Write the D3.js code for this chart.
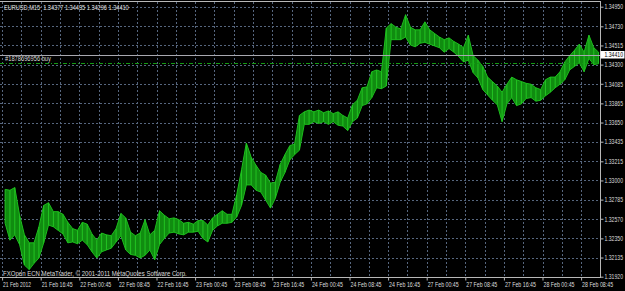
<!DOCTYPE html>
<html>
<head>
<meta charset="utf-8">
<script src="https://d3js.org/d3.v7.min.js"></script>
<style>
  body { margin: 0; background: #000; }
  svg text { font-family: "Liberation Sans", Arial, sans-serif; }
</style>
</head>
<body>
<svg id="chart" width="625" height="291"></svg>
<script>
// EURUSD M15, summarised per hour (4 bars each), first hour = 21 Feb 2012 09:00
const highs = [
  1.3290, 1.3289, 1.3292, 1.3261, 1.3239, 1.3230, 1.3230, 1.3248, 1.3272, 1.3275,
  1.3265, 1.3265, 1.3262, 1.3253, 1.3246, 1.3244, 1.3253, 1.3251, 1.3240, 1.3233,
  1.3241, 1.3239, 1.3238, 1.3246, 1.3263, 1.3258, 1.3242, 1.3238, 1.3241, 1.3256,
  1.3239, 1.3244, 1.3266, 1.3261, 1.3257, 1.3258, 1.3256, 1.3252, 1.3253, 1.3251,
  1.3255, 1.3255, 1.3250, 1.3258, 1.3262, 1.3266, 1.3262, 1.3262, 1.3284, 1.3312,
  1.3342, 1.3326, 1.3317, 1.3309, 1.3306, 1.3297, 1.3298, 1.3318, 1.3329, 1.3339,
  1.3341, 1.3373, 1.3377, 1.3379, 1.3377, 1.3379, 1.3376, 1.3378, 1.3375, 1.3377,
  1.3373, 1.3370, 1.3385, 1.3390, 1.3404, 1.3405, 1.3422, 1.3424, 1.3422, 1.3471,
  1.3476, 1.3472, 1.3470, 1.3486, 1.3472, 1.3469, 1.3469, 1.3478, 1.3469, 1.3465,
  1.3461, 1.3458, 1.3460, 1.3456, 1.3453, 1.3449, 1.3463, 1.3440, 1.3435, 1.3428,
  1.3416, 1.3411, 1.3406, 1.3399, 1.3408, 1.3416, 1.3413, 1.3411, 1.3409, 1.3408,
  1.3404, 1.3402, 1.3413, 1.3416, 1.3416, 1.3422, 1.3433, 1.3440, 1.3446, 1.3453,
  1.3444, 1.3463, 1.3449, 1.3444
];
const lows = [
  1.3252, 1.3233, 1.3239, 1.3228, 1.3205, 1.3200, 1.3207, 1.3213, 1.3230, 1.3250,
  1.3248, 1.3244, 1.3240, 1.3230, 1.3231, 1.3229, 1.3233, 1.3228, 1.3220, 1.3213,
  1.3220, 1.3222, 1.3224, 1.3231, 1.3238, 1.3222, 1.3217, 1.3216, 1.3213, 1.3216,
  1.3222, 1.3211, 1.3228, 1.3235, 1.3241, 1.3242, 1.3240, 1.3239, 1.3242, 1.3242,
  1.3243, 1.3235, 1.3231, 1.3244, 1.3249, 1.3252, 1.3252, 1.3253, 1.3259, 1.3272,
  1.3295, 1.3295, 1.3289, 1.3287, 1.3278, 1.3269, 1.3280, 1.3298, 1.3309, 1.3323,
  1.3329, 1.3334, 1.3363, 1.3363, 1.3366, 1.3364, 1.3366, 1.3363, 1.3366, 1.3362,
  1.3361, 1.3356, 1.3366, 1.3370, 1.3384, 1.3386, 1.3393, 1.3404, 1.3403, 1.3406,
  1.3458, 1.3458, 1.3458, 1.3461, 1.3452, 1.3450, 1.3454, 1.3455, 1.3453, 1.3451,
  1.3449, 1.3444, 1.3448, 1.3444, 1.3439, 1.3433, 1.3435, 1.3421, 1.3415, 1.3402,
  1.3396, 1.3390, 1.3385, 1.3366, 1.3386, 1.3393, 1.3384, 1.3386, 1.3392, 1.3393,
  1.3389, 1.3390, 1.3395, 1.3399, 1.3404, 1.3408, 1.3413, 1.3424, 1.3428, 1.3432,
  1.3422, 1.3437, 1.3430, 1.3431
];

const yTicks = [1.34950, 1.34730, 1.34515, 1.34300, 1.34085, 1.33865, 1.33650,
  1.33435, 1.33215, 1.33000, 1.32785, 1.32570, 1.32350, 1.32135, 1.31920];
const xLabels = ["21 Feb 2012", "21 Feb 16:45", "22 Feb 00:45", "22 Feb 08:45",
  "22 Feb 16:45", "23 Feb 00:45", "23 Feb 08:45", "23 Feb 16:45", "24 Feb 00:45",
  "24 Feb 08:45", "24 Feb 16:45", "27 Feb 00:45", "27 Feb 08:45", "27 Feb 16:45",
  "28 Feb 00:45", "28 Feb 08:45"];

const symbol = "EURUSD,M15";
const lastBar = [1.34377, 1.34435, 1.34296, 1.34410]; // open high low close
const bidPrice = 1.34410;
const orderPrice = 1.3432;
const orderLabel = "#1878696956 buy";
const copyright = "FXOpen ECN MetaTrader, \u00a9 2001-2011 MetaQuotes Software Corp.";

const svg = d3.select("svg#chart");
const width = +svg.attr("width");
const height = +svg.attr("height");
const axisX = 600.5, bottomY = 277.5;
const fmt = d3.format(".5f");

svg.append("rect").attr("width", width).attr("height", height).attr("fill", "#000");

// x in M15 bars, bar 0 = 21 Feb 08:45; one hour = 4 bars
const x = d3.scaleLinear().domain([0, 496]).range([2.1, 600.4]);
const y = d3.scaleLinear().domain([1.3192, 1.3495]).range([276.7, 6.7]);
const hourX = (d, i) => x(i * 4 + 2.5);

// the screenshot text is squeezed sideways, so scale each text to its width
function squeeze(sel, w) {
  sel.each(function(d, i) {
    const t = d3.select(this);
    const px = +t.attr("x") || 0, py = +t.attr("y") || 0;
    const target = typeof w === "function" ? w(d, i) : w;
    const s = target / this.getComputedTextLength();
    t.attr("x", 0).attr("y", 0)
      .attr("transform", `translate(${px},${py}) scale(${s},1)`);
  });
}

// grid
const grid = svg.append("g").attr("stroke", "#56667e").attr("stroke-dasharray", "2,2")
  .attr("shape-rendering", "crispEdges");
grid.selectAll("line.v").data(d3.range(0, 31)).join("line").attr("class", "v")
  .attr("x1", d => Math.round(x(d * 16)) + 0.5).attr("x2", d => Math.round(x(d * 16)) + 0.5)
  .attr("y1", 2).attr("y2", bottomY);
grid.selectAll("line.h").data(yTicks).join("line").attr("class", "h")
  .attr("x1", 0).attr("x2", axisX)
  .attr("y1", d => Math.round(y(d)) + 0.5).attr("y2", d => Math.round(y(d)) + 0.5);

// price band
const band = d3.area().x(hourX).y0((d, i) => y(lows[i])).y1(d => y(d));
svg.append("path").datum(highs).attr("d", band).attr("fill", "#108c10");
const edge = d3.line().x(hourX);
svg.append("path").datum(highs).attr("d", edge.y(d => y(d)))
  .attr("fill", "none").attr("stroke", "#1cbc1c").attr("stroke-width", 1);
svg.append("path").datum(lows).attr("d", edge.y(d => y(d)))
  .attr("fill", "none").attr("stroke", "#1cbc1c").attr("stroke-width", 1);
svg.append("g").selectAll("line").data(highs).join("line")
  .attr("x1", hourX).attr("x2", hourX)
  .attr("y1", d => y(d)).attr("y2", (d, i) => y(lows[i]))
  .attr("stroke", "#22c422").attr("stroke-width", 1);

// order line
svg.append("line").attr("x1", 0).attr("x2", axisX)
  .attr("y1", Math.round(y(orderPrice)) + 0.5).attr("y2", Math.round(y(orderPrice)) + 0.5)
  .attr("stroke", "#139a13").attr("stroke-dasharray", "4,2,1,2");
svg.append("text").attr("x", 5).attr("y", y(orderPrice) - 1.5)
  .attr("font-size", 7).attr("fill", "#d8d8d8").text(orderLabel)
  .call(squeeze, 46);

// bid line
svg.append("line").attr("x1", 0).attr("x2", axisX)
  .attr("y1", Math.round(y(bidPrice)) + 0.5).attr("y2", Math.round(y(bidPrice)) + 0.5)
  .attr("stroke", "#a8a8b0").attr("shape-rendering", "crispEdges");

// frame
const frame = svg.append("g").attr("stroke", "#b8b8b8").attr("shape-rendering", "crispEdges");
frame.append("line").attr("x1", 0).attr("x2", axisX).attr("y1", 1.5).attr("y2", 1.5);
frame.append("line").attr("x1", 0).attr("x2", axisX).attr("y1", bottomY).attr("y2", bottomY);
frame.append("line").attr("x1", axisX).attr("x2", axisX).attr("y1", 1).attr("y2", bottomY);

// axes
const yAxis = d3.axisRight(y).tickValues(yTicks).tickSize(3).tickPadding(1).tickFormat(fmt);
svg.append("g").attr("transform", `translate(${axisX},0)`).call(yAxis)
  .call(g => g.select(".domain").remove())
  .call(g => g.selectAll("line").attr("stroke", "#b8b8b8"))
  .call(g => g.selectAll("text").attr("fill", "#dcdcdc").attr("font-size", 7)
    .attr("font-family", null).attr("x", 4).call(squeeze, 18.5));

const xAxis = d3.axisBottom(x).tickValues(xLabels.map((d, i) => i * 32))
  .tickFormat((d, i) => xLabels[i]).tickSize(3).tickPadding(1.2);
svg.append("g").attr("transform", `translate(0,${bottomY})`).call(xAxis)
  .call(g => g.select(".domain").remove())
  .call(g => g.selectAll("line").attr("stroke", "#b8b8b8"))
  .call(g => g.selectAll("text").attr("fill", "#dcdcdc").attr("font-size", 7)
    .attr("font-family", null).attr("text-anchor", "start").attr("x", 0.5)
    .call(squeeze, (d, i) => i === 0 ? 28 : 31));

// bid price box on the axis
svg.append("rect").attr("x", axisX).attr("y", y(bidPrice) - 3.8).attr("width", 24).attr("height", 7.5)
  .attr("fill", "#fff");
svg.append("text").attr("x", axisX + 4).attr("y", y(bidPrice)).attr("dy", "0.32em")
  .attr("font-size", 7).attr("fill", "#000").text(fmt(bidPrice))
  .call(squeeze, 18.5);

// title and copyright
svg.append("text").attr("x", 4).attr("y", 9.5).attr("font-size", 7).attr("fill", "#e4e4e4")
  .attr("xml:space", "preserve")
  .text(symbol + "  " + lastBar.map(fmt).join(" "))
  .call(squeeze, 125);
svg.append("text").attr("x", 3).attr("y", 276.3).attr("font-size", 7).attr("fill", "#dcdcdc")
  .text(copyright).call(squeeze, 184);
</script>
</body>
</html>
